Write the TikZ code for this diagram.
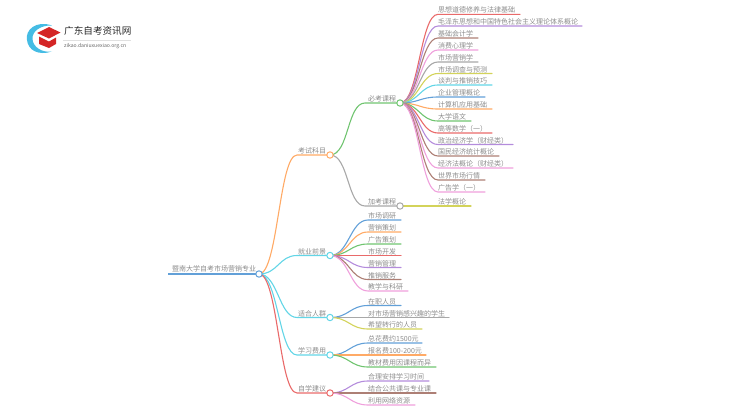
\documentclass[tikz,border=0pt]{standalone}
\usepackage{fontspec}
\usetikzlibrary{calc}
\setmainfont{Noto Sans CJK SC}
\definecolor{cred}{HTML}{E96A6A}
\definecolor{cpurple}{HTML}{B48CDC}
\definecolor{cbrown}{HTML}{AD7F75}
\definecolor{cpink}{HTML}{EFA0DC}
\definecolor{cgray}{HTML}{A8A8A8}
\definecolor{cyellow}{HTML}{D3D35A}
\definecolor{ccyan}{HTML}{62D5E6}
\definecolor{cblue}{HTML}{62A0D8}
\definecolor{corange}{HTML}{FFAA66}
\definecolor{cgreen}{HTML}{70C470}
\definecolor{ctext}{HTML}{8C8C8C}
\tikzset{
  x=1pt,y=-1pt,
  label text/.style={anchor=south west,inner sep=0pt,font=\fontsize{7}{7}\selectfont,text=ctext,yshift=0.6pt},
  hub/.style={circle,draw=#1,fill=white,line width=1pt,minimum size=6.4pt,inner sep=0pt},
  link/.style={line width=1.1pt,line join=round,line cap=round},
}
% name, parent, colour, x start, y, x end, text
\newcommand{\branch}[7]{%
  \coordinate (#1s) at (#4,#5);
  \coordinate (#1e) at (#6,#5);
  \draw[link,#3] (#2) .. controls ($(#2)+(19,0)$) and ($(#1s)+(-18,0)$) .. (#1s) -- (#1e);
  \node[label text] (#1) at (#1s) {#7};
}
\begin{document}
\begin{tikzpicture}
\useasboundingbox (0,0) rectangle (750,410);
% logo
\fill[cblue!70!cyan] (52,25.5) .. controls (36,20) and (25,30) .. (27,40) .. controls (28,50) and (38,56) .. (52,51.5) .. controls (42,53) and (33,47) .. (32.5,39) .. controls (32,31) and (41,25) .. (52,25.5) -- cycle;
\fill[red!80!black!85!white] (37,33) -- (49,27) -- (60.5,32.5) -- (49,38.5) -- cycle;
\fill[red!80!black!85!white] (39,36.5) -- (49,41.5) -- (56,37.5) -- (56,44) -- (49,48) -- (39,44) -- cycle;
\node[anchor=west,inner sep=0pt,font=\fontsize{9.6}{9.6}\selectfont,text=black!85] (logotitle) at (64,31) {广东自考资讯网};
\draw[black!12,line width=0.5pt] (63,40.5) -- (131,40.5);
\node[anchor=west,inner sep=0pt,font=\fontsize{5.1}{5.2}\selectfont,text=black!60] (logosub) at (64,46.5) {zikao.daniuxuexiao.org.cn};
% hubs positions
\coordinate (root) at (259,274);
\coordinate (kaoshi) at (330,155);
\coordinate (bikao) at (400,103);
\coordinate (jiakao) at (400,206);
\coordinate (jiuye) at (330,255.5);
\coordinate (shihe) at (330,317.5);
\coordinate (xuexi) at (330,355);
\coordinate (zixue) at (330,393);
% root
\coordinate (rootstart) at (168,274);
\draw[line width=1.8pt,cblue] (rootstart) -- (root);
\node[label text,yshift=0.8pt] (roottext) at (172,274) {暨南大学自考市场营销专业};
% main branches
\branch{bk}{root}{corange}{297}{155}{330}{}
\branch{bj}{root}{ccyan}{297}{255.5}{330}{}
\branch{bs}{root}{ccyan}{297}{317.5}{330}{}
\branch{bx}{root}{ccyan}{297}{355}{330}{}
\branch{bz}{root}{cred}{297}{393}{330}{}
\node[label text] (t1) at (298,155) {考试科目};
\node[label text] (t2) at (298,255.5) {就业前景};
\node[label text] (t3) at (298,317.5) {适合人群};
\node[label text] (t4) at (298,355) {学习费用};
\node[label text] (t5) at (298,393) {自学建议};
\branch{bb}{kaoshi}{cgreen}{365}{103}{400}{}
\branch{ba}{kaoshi}{cgray}{365}{206}{400}{}
\node[label text] (t6) at (368,103) {必考课程};
\node[label text] (t7) at (368,206) {加考课程};
% required courses
\branch{a1}{bikao}{cred}{438}{14.3}{520}{思想道德修养与法律基础}
\branch{a2}{bikao}{cpurple}{438}{26}{582}{毛泽东思想和中国特色社会主义理论体系概论}
\branch{a3}{bikao}{cbrown}{438}{38}{478}{基础会计学}
\branch{a4}{bikao}{cpink}{438}{50}{478}{消费心理学}
\branch{a5}{bikao}{cgray}{438}{62}{478}{市场营销学}
\branch{a6}{bikao}{cyellow}{438}{73.5}{492}{市场调查与预测}
\branch{a7}{bikao}{ccyan}{438}{85}{492}{谈判与推销技巧}
\branch{a8}{bikao}{cblue}{438}{97}{485}{企业管理概论}
\branch{a9}{bikao}{corange}{438}{109}{492}{计算机应用基础}
\branch{a10}{bikao}{cgreen}{438}{121}{471}{大学语文}
\branch{a11}{bikao}{cred}{438}{133}{492}{高等数学（一）}
\branch{a12}{bikao}{cpurple}{438}{144.5}{513}{政治经济学（财经类）}
\branch{a13}{bikao}{cbrown}{438}{156}{499}{国民经济统计概论}
\branch{a14}{bikao}{cpink}{438}{168}{513}{经济法概论（财经类）}
\branch{a15}{bikao}{cbrown}{438}{180}{485}{世界市场行情}
\branch{a16}{bikao}{cpink}{438}{192}{485}{广告学（一）}
\branch{a17}{jiakao}{cyellow}{438}{206}{471}{法学概论}
% jobs
\branch{j1}{jiuye}{cblue}{368}{220}{401}{市场调研}
\branch{j2}{jiuye}{corange}{368}{232}{401}{营销策划}
\branch{j3}{jiuye}{cgreen}{368}{244}{401}{广告策划}
\branch{j4}{jiuye}{cred}{368}{255.5}{401}{市场开发}
\branch{j5}{jiuye}{cpurple}{368}{267.5}{401}{营销管理}
\branch{j6}{jiuye}{cbrown}{368}{279.5}{401}{推销服务}
\branch{j7}{jiuye}{cpink}{368}{291}{408}{教学与科研}
% audience
\branch{s1}{shihe}{cblue}{368}{305.5}{401}{在职人员}
\branch{s2}{shihe}{cgray}{368}{317.5}{449}{对市场营销感兴趣的学生}
\branch{s3}{shihe}{cyellow}{368}{329}{422}{希望转行的人员}
% cost
\branch{x1}{xuexi}{cblue}{368}{343}{422}{总花费约1500元}
\branch{x2}{xuexi}{corange}{368}{355}{426}{报名费100-200元}
\branch{x3}{xuexi}{cgreen}{368}{367}{436}{教材费用因课程而异}
% advice
\branch{z1}{zixue}{cpurple}{368}{381}{429}{合理安排学习时间}
\branch{z2}{zixue}{cbrown}{368}{393}{436}{结合公共课与专业课}
\branch{z3}{zixue}{cpink}{368}{405}{415}{利用网络资源}
% hubs on top
\node[hub=cblue] (hroot) at (root) {};
\node[hub=corange] (hkaoshi) at (kaoshi) {};
\node[hub=cgreen] (hbikao) at (bikao) {};
\node[hub=cgray] (hjiakao) at (jiakao) {};
\node[hub=ccyan] (hjiuye) at (jiuye) {};
\node[hub=ccyan] (hshihe) at (shihe) {};
\node[hub=ccyan] (hxuexi) at (xuexi) {};
\node[hub=cred] (hzixue) at (zixue) {};
\end{tikzpicture}
\end{document}
